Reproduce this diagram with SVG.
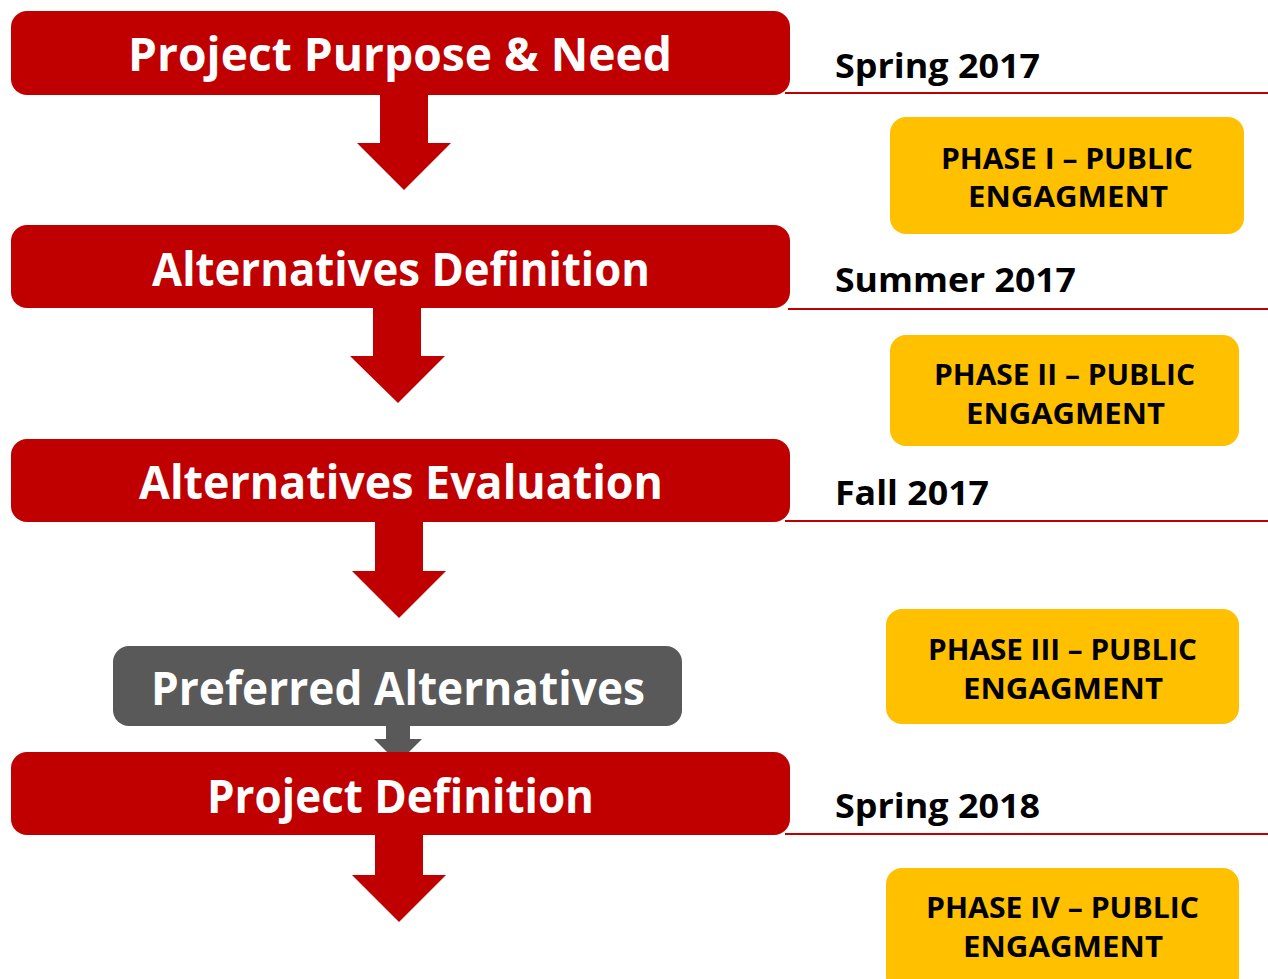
<svg xmlns="http://www.w3.org/2000/svg" width="1268" height="979" viewBox="0 0 1268 979">
<style>
.red{fill:#C00000}
.gray{fill:#595959}
.yel{fill:#FFC000}
.title{font-family:"Open Sans","Liberation Sans",sans-serif;font-weight:700;font-size:47px;fill:#FFFFFF;text-anchor:start}
.date{font-family:"Open Sans","Liberation Sans",sans-serif;font-weight:700;font-size:34px;fill:#000000}
.phase{font-family:"Open Sans","Liberation Sans",sans-serif;font-weight:700;font-size:28px;fill:#000000}
.rule{stroke:#C00000;stroke-width:2.2}
</style>
<rect width="1268" height="979" fill="#FFFFFF"/>
<g id="connectors">
<polygon class="red" points="380,94 428,94 428,143 451,143 404,190 357,143 380,143"/>
<polygon class="red" points="373,307 421,307 421,356 445,356 398,403 350,356 373,356"/>
<polygon class="red" points="375,521 423,521 423,571 446,571 399,618 352,571 375,571"/>
<polygon class="gray" points="386,725 410,725 410,739 422,739 398,763 374,739 386,739"/>
<polygon class="red" points="375,834 423,834 423,875 446,875 399,922 352,875 375,875"/>
</g>
<g id="timeline">
<line class="rule" x1="785" y1="93" x2="1268" y2="93"/>
<line class="rule" x1="788" y1="309" x2="1268" y2="309"/>
<line class="rule" x1="785" y1="521" x2="1268" y2="521"/>
<line class="rule" x1="785" y1="834" x2="1268" y2="834"/>
<text class="date" x="835" y="78" textLength="205" lengthAdjust="spacingAndGlyphs">Spring 2017</text>
<text class="date" x="835" y="292" textLength="241" lengthAdjust="spacingAndGlyphs">Summer 2017</text>
<text class="date" x="835" y="505" textLength="154" lengthAdjust="spacingAndGlyphs">Fall 2017</text>
<text class="date" x="835" y="818" textLength="205" lengthAdjust="spacingAndGlyphs">Spring 2018</text>
</g>
<g id="node-purpose">
<rect class="red" x="11" y="11" width="779" height="84" rx="16"/>
<text class="title" x="128" y="71" textLength="544" lengthAdjust="spacingAndGlyphs">Project Purpose &amp; Need</text>
</g>
<g id="node-alt-def">
<rect class="red" x="11" y="225" width="779" height="83" rx="16"/>
<text class="title" x="152" y="286" textLength="498" lengthAdjust="spacingAndGlyphs">Alternatives Definition</text>
</g>
<g id="node-alt-eval">
<rect class="red" x="11" y="439" width="779" height="83" rx="16"/>
<text class="title" x="139" y="499" textLength="524" lengthAdjust="spacingAndGlyphs">Alternatives Evaluation</text>
</g>
<g id="node-preferred">
<rect class="gray" x="113" y="646" width="569" height="80" rx="16"/>
<text class="title" x="151" y="705" textLength="494" lengthAdjust="spacingAndGlyphs">Preferred Alternatives</text>
</g>
<g id="node-project-def">
<rect class="red" x="11" y="752" width="779" height="83" rx="16"/>
<text class="title" x="207" y="813" textLength="387" lengthAdjust="spacingAndGlyphs">Project Definition</text>
</g>
<g id="node-phase1">
<rect class="yel" x="890" y="117" width="354" height="117" rx="16"/>
<text class="phase" x="941" y="169" textLength="252" lengthAdjust="spacingAndGlyphs">PHASE I – PUBLIC</text>
<text class="phase" x="968" y="207" textLength="200" lengthAdjust="spacingAndGlyphs">ENGAGMENT</text>
</g>
<g id="node-phase2">
<rect class="yel" x="890" y="335" width="349" height="111" rx="16"/>
<text class="phase" x="934" y="385" textLength="261" lengthAdjust="spacingAndGlyphs">PHASE II – PUBLIC</text>
<text class="phase" x="966" y="424" textLength="199" lengthAdjust="spacingAndGlyphs">ENGAGMENT</text>
</g>
<g id="node-phase3">
<rect class="yel" x="886" y="609" width="353" height="115" rx="16"/>
<text class="phase" x="928" y="660" textLength="269" lengthAdjust="spacingAndGlyphs">PHASE III – PUBLIC</text>
<text class="phase" x="963" y="699" textLength="200" lengthAdjust="spacingAndGlyphs">ENGAGMENT</text>
</g>
<g id="node-phase4">
<rect class="yel" x="886" y="868" width="353" height="125" rx="16"/>
<text class="phase" x="926" y="918" textLength="273" lengthAdjust="spacingAndGlyphs">PHASE IV – PUBLIC</text>
<text class="phase" x="963" y="957" textLength="200" lengthAdjust="spacingAndGlyphs">ENGAGMENT</text>
</g>
</svg>
